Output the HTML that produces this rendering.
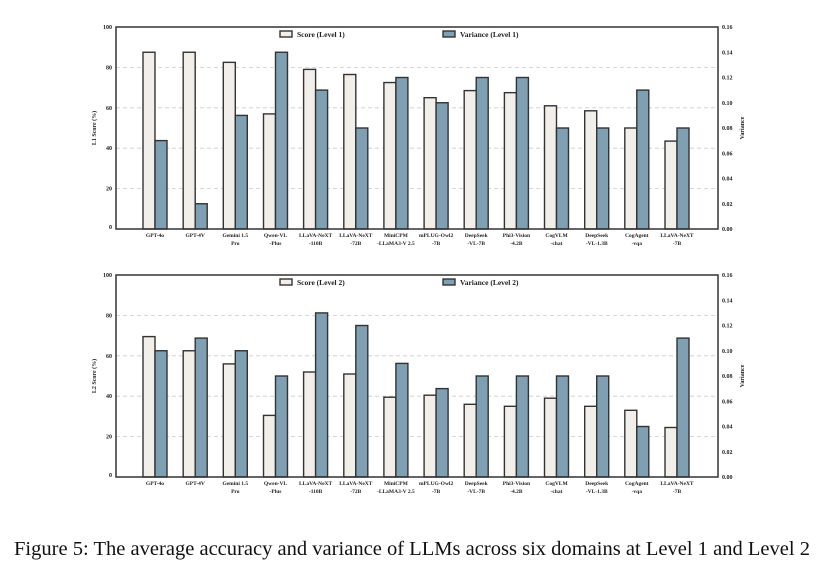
<!DOCTYPE html>
<html><head><meta charset="utf-8"><style>
body{margin:0;background:#fff;width:830px;height:579px;overflow:hidden}
svg text{font-family:"Liberation Serif",serif;font-weight:bold;fill:#222}
.s{fill:#f2efea;stroke:#333;stroke-width:1.4}
.v{fill:#7f9fb2;stroke:#333;stroke-width:1.4}
.g{stroke:#ccc;stroke-width:0.8;stroke-dasharray:4 3}
.t{font-size:6px}
.xl{font-size:5.5px;text-anchor:middle}
</style></head><body>
<svg width="830" height="579" viewBox="0 0 830 579" xmlns="http://www.w3.org/2000/svg">
<defs>
<g id="xlabels">
<text class="xl" x="155" y="0">GPT-4o</text>
<text class="xl" x="195.2" y="0">GPT-4V</text>
<text class="xl" x="235.3" y="0">Gemini 1.5</text><text class="xl" x="235.3" y="8">Pro</text>
<text class="xl" x="275.5" y="0">Qwen-VL</text><text class="xl" x="275.5" y="8">-Plus</text>
<text class="xl" x="315.6" y="0">LLaVA-NeXT</text><text class="xl" x="315.6" y="8">-110B</text>
<text class="xl" x="355.8" y="0">LLaVA-NeXT</text><text class="xl" x="355.8" y="8">-72B</text>
<text class="xl" x="395.9" y="0">MiniCPM</text><text class="xl" x="395.9" y="8">-LLaMA3-V 2.5</text>
<text class="xl" x="436.1" y="0">mPLUG-Owl2</text><text class="xl" x="436.1" y="8">-7B</text>
<text class="xl" x="476.2" y="0">DeepSeek</text><text class="xl" x="476.2" y="8">-VL-7B</text>
<text class="xl" x="516.4" y="0">Phi3-Vision</text><text class="xl" x="516.4" y="8">-4.2B</text>
<text class="xl" x="556.5" y="0">CogVLM</text><text class="xl" x="556.5" y="8">-chat</text>
<text class="xl" x="596.7" y="0">DeepSeek</text><text class="xl" x="596.7" y="8">-VL-1.3B</text>
<text class="xl" x="636.8" y="0">CogAgent</text><text class="xl" x="636.8" y="8">-vqa</text>
<text class="xl" x="677" y="0">LLaVA-NeXT</text><text class="xl" x="677" y="8">-7B</text>
</g>
</defs>

<!-- TOP CHART -->
<g>
<line class="g" x1="116" x2="718" y1="67.4" y2="67.4"/>
<line class="g" x1="116" x2="718" y1="107.8" y2="107.8"/>
<line class="g" x1="116" x2="718" y1="148.2" y2="148.2"/>
<line class="g" x1="116" x2="718" y1="188.6" y2="188.6"/>
<rect class="s" x="143" y="52.25" width="12" height="176.75"/><rect class="v" x="155" y="140.6" width="12" height="88.4"/>
<rect class="s" x="183.2" y="52.25" width="12" height="176.75"/><rect class="v" x="195.2" y="203.75" width="12" height="25.25"/>
<rect class="s" x="223.3" y="62.35" width="12" height="166.65"/><rect class="v" x="235.3" y="115.4" width="12" height="113.6"/>
<rect class="s" x="263.5" y="113.9" width="12" height="115.1"/><rect class="v" x="275.5" y="52.25" width="12" height="176.75"/>
<rect class="s" x="303.6" y="69.4" width="12" height="159.6"/><rect class="v" x="315.6" y="90.1" width="12" height="138.9"/>
<rect class="s" x="343.8" y="74.5" width="12" height="154.5"/><rect class="v" x="355.8" y="128" width="12" height="101"/>
<rect class="s" x="383.9" y="82.55" width="12" height="146.45"/><rect class="v" x="395.9" y="77.5" width="12" height="151.5"/>
<rect class="s" x="424.1" y="97.7" width="12" height="131.3"/><rect class="v" x="436.1" y="102.75" width="12" height="126.25"/>
<rect class="s" x="464.2" y="90.6" width="12" height="138.4"/><rect class="v" x="476.2" y="77.5" width="12" height="151.5"/>
<rect class="s" x="504.4" y="92.65" width="12" height="136.35"/><rect class="v" x="516.4" y="77.5" width="12" height="151.5"/>
<rect class="s" x="544.5" y="105.8" width="12" height="123.2"/><rect class="v" x="556.5" y="128" width="12" height="101"/>
<rect class="s" x="584.7" y="110.8" width="12" height="118.2"/><rect class="v" x="596.7" y="128" width="12" height="101"/>
<rect class="s" x="624.8" y="128" width="12" height="101"/><rect class="v" x="636.8" y="90.1" width="12" height="138.9"/>
<rect class="s" x="665" y="141.1" width="12" height="87.9"/><rect class="v" x="677" y="128" width="12" height="101"/>
<rect x="116" y="27" width="602" height="202" fill="none" stroke="#333" stroke-width="1.5"/>
<g class="t" text-anchor="end">
<text x="112" y="229">0</text><text x="112" y="190.6">20</text><text x="112" y="150.2">40</text><text x="112" y="109.8">60</text><text x="112" y="69.4">80</text><text x="112" y="29">100</text>
</g>
<g class="t">
<text x="722" y="231">0.00</text><text x="722" y="205.75">0.02</text><text x="722" y="180.5">0.04</text><text x="722" y="155.25">0.06</text><text x="722" y="130">0.08</text><text x="722" y="104.75">0.10</text><text x="722" y="79.5">0.12</text><text x="722" y="54.25">0.14</text><text x="722" y="29">0.16</text>
</g>
<text class="t" transform="translate(96,128) rotate(-90)" text-anchor="middle">L1 Score (%)</text>
<text class="t" transform="translate(744,128) rotate(-90)" text-anchor="middle">Variance</text>
<rect class="s" x="280" y="31" width="12" height="6" stroke-width="1"/><text x="297" y="37" font-size="7.5">Score (Level 1)</text>
<rect class="v" x="443" y="31" width="12" height="6" stroke-width="1"/><text x="460" y="37" font-size="7.5">Variance (Level 1)</text>
<use href="#xlabels" x="0" y="237"/>
</g>

<!-- BOTTOM CHART -->
<g>
<line class="g" x1="116" x2="718" y1="315.4" y2="315.4"/>
<line class="g" x1="116" x2="718" y1="355.8" y2="355.8"/>
<line class="g" x1="116" x2="718" y1="396.2" y2="396.2"/>
<line class="g" x1="116" x2="718" y1="436.6" y2="436.6"/>
<rect class="s" x="143" y="336.6" width="12" height="140.4"/><rect class="v" x="155" y="350.75" width="12" height="126.25"/>
<rect class="s" x="183.2" y="350.75" width="12" height="126.25"/><rect class="v" x="195.2" y="338.1" width="12" height="138.9"/>
<rect class="s" x="223.3" y="363.9" width="12" height="113.1"/><rect class="v" x="235.3" y="350.75" width="12" height="126.25"/>
<rect class="s" x="263.5" y="415.4" width="12" height="61.6"/><rect class="v" x="275.5" y="376" width="12" height="101"/>
<rect class="s" x="303.6" y="372" width="12" height="105"/><rect class="v" x="315.6" y="312.9" width="12" height="164.1"/>
<rect class="s" x="343.8" y="374" width="12" height="103"/><rect class="v" x="355.8" y="325.5" width="12" height="151.5"/>
<rect class="s" x="383.9" y="397.2" width="12" height="79.8"/><rect class="v" x="395.9" y="363.4" width="12" height="113.6"/>
<rect class="s" x="424.1" y="395.2" width="12" height="81.8"/><rect class="v" x="436.1" y="388.6" width="12" height="88.4"/>
<rect class="s" x="464.2" y="404.3" width="12" height="72.7"/><rect class="v" x="476.2" y="376" width="12" height="101"/>
<rect class="s" x="504.4" y="406.3" width="12" height="70.7"/><rect class="v" x="516.4" y="376" width="12" height="101"/>
<rect class="s" x="544.5" y="398.2" width="12" height="78.8"/><rect class="v" x="556.5" y="376" width="12" height="101"/>
<rect class="s" x="584.7" y="406.3" width="12" height="70.7"/><rect class="v" x="596.7" y="376" width="12" height="101"/>
<rect class="s" x="624.8" y="410.3" width="12" height="66.7"/><rect class="v" x="636.8" y="426.5" width="12" height="50.5"/>
<rect class="s" x="665" y="427.5" width="12" height="49.5"/><rect class="v" x="677" y="338.1" width="12" height="138.9"/>
<rect x="116" y="275" width="602" height="202" fill="none" stroke="#333" stroke-width="1.5"/>
<g class="t" text-anchor="end">
<text x="112" y="477">0</text><text x="112" y="438.6">20</text><text x="112" y="398.2">40</text><text x="112" y="357.8">60</text><text x="112" y="317.4">80</text><text x="112" y="277">100</text>
</g>
<g class="t">
<text x="722" y="479">0.00</text><text x="722" y="453.75">0.02</text><text x="722" y="428.5">0.04</text><text x="722" y="403.25">0.06</text><text x="722" y="378">0.08</text><text x="722" y="352.75">0.10</text><text x="722" y="327.5">0.12</text><text x="722" y="302.25">0.14</text><text x="722" y="277">0.16</text>
</g>
<text class="t" transform="translate(96,376) rotate(-90)" text-anchor="middle">L2 Score (%)</text>
<text class="t" transform="translate(744,376) rotate(-90)" text-anchor="middle">Variance</text>
<rect class="s" x="280" y="279" width="12" height="6" stroke-width="1"/><text x="297" y="285" font-size="7.5">Score (Level 2)</text>
<rect class="v" x="443" y="279" width="12" height="6" stroke-width="1"/><text x="460" y="285" font-size="7.5">Variance (Level 2)</text>
<use href="#xlabels" x="0" y="485"/>
</g>

<text x="14" y="555" font-size="20" textLength="796" lengthAdjust="spacingAndGlyphs" style="font-weight:normal;fill:#111">Figure 5: The average accuracy and variance of LLMs across six domains at Level 1 and Level 2</text>
</svg>
</body></html>
